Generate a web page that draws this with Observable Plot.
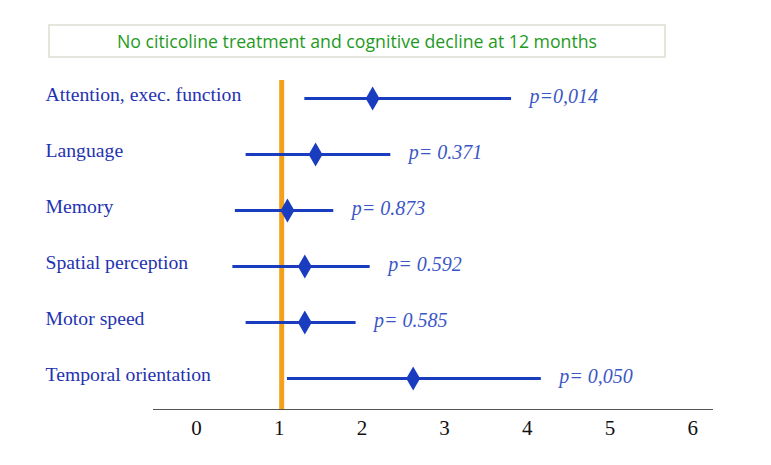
<!DOCTYPE html>
<html>
<head>
<meta charset="utf-8">
<script src="https://cdn.jsdelivr.net/npm/d3@7"></script>
<script src="https://cdn.jsdelivr.net/npm/@observablehq/plot@0.6"></script>
<style>
  html, body { margin: 0; padding: 0; background: #fff; }
  #wrap { position: relative; width: 771px; height: 465px; }
  #title {
    position: absolute; left: 48px; top: 24px; width: 618px; height: 34px;
    border: 2px solid #e3e6dc; box-sizing: border-box;
    font-family: "Open Sans", "Liberation Sans", sans-serif; font-size: 17.7px;
    color: #1e9a1e; text-align: center; line-height: 30px;
  }
</style>
</head>
<body>
<div id="wrap">
  <div id="title">No citicoline treatment and cognitive decline at 12 months</div>
</div>
<script>
const categories = ["Attention, exec. function", "Language", "Memory", "Spatial perception", "Motor speed", "Temporal orientation"];
const estimates = [2.13, 1.44, 1.10, 1.31, 1.31, 2.62];
const lowers = [1.31, 0.60, 0.47, 0.44, 0.60, 1.10];
const uppers = [3.81, 2.35, 1.66, 2.10, 1.93, 4.17];
const pLabels = ["p=0,014", "p= 0.371", "p= 0.873", "p= 0.592", "p= 0.585", "p= 0,050"];
const xTicks = [0, 1, 2, 3, 4, 5, 6];
const refValue = 1.03;

const rows = categories.map((c, i) => ({name: c, est: estimates[i], lo: lowers[i], hi: uppers[i], p: pLabels[i]}));

const blue = "#1a3cbf";
const chart = Plot.plot({
  width: 771,
  height: 465,
  marginLeft: 153,
  marginRight: 59,
  marginTop: 80,
  marginBottom: 56,
  x: {domain: [-0.52, 6.24]},
  y: {domain: categories, type: "point", range: [97, 378], padding: 0},
  marks: [
    Plot.frame({anchor: "bottom", stroke: "#555", strokeWidth: 1}),
    Plot.axisX({ticks: xTicks, tickSize: 0, tickPadding: 11, fontSize: 21, fontFamily: "'Liberation Serif', 'DejaVu Serif', serif", color: "#111", label: null, tickFormat: d => String(d)}),
    Plot.axisY({ticks: [], label: null, tickSize: 0}),
    Plot.ruleX([refValue], {stroke: "#f5a01c", strokeWidth: 5}),
    Plot.ruleY(rows, {y: "name", x1: "lo", x2: "hi", stroke: blue, strokeWidth: 3}),
    Plot.dot(rows, {x: "est", y: "name", symbol: "diamond", r: 7.3, fill: blue, stroke: "none"}),
    Plot.text(rows, {y: "name", text: "name", frameAnchor: "left", dx: -108, dy: -4, textAnchor: "start", fontSize: 19.7, fontFamily: "'Liberation Serif', serif", fill: "#1f33b0"}),
    Plot.text(rows, {x: "hi", y: "name", text: "p", dx: 18, dy: -2, textAnchor: "start", fontSize: 20, fontStyle: "italic", fontFamily: "'Liberation Serif', serif", fill: "#3b56c6"})
  ]
});
document.getElementById("wrap").prepend(chart);
chart.style.position = "absolute";
chart.style.left = "0";
chart.style.top = "0";
document.getElementById("title").style.zIndex = "1";
</script>
</body>
</html>
